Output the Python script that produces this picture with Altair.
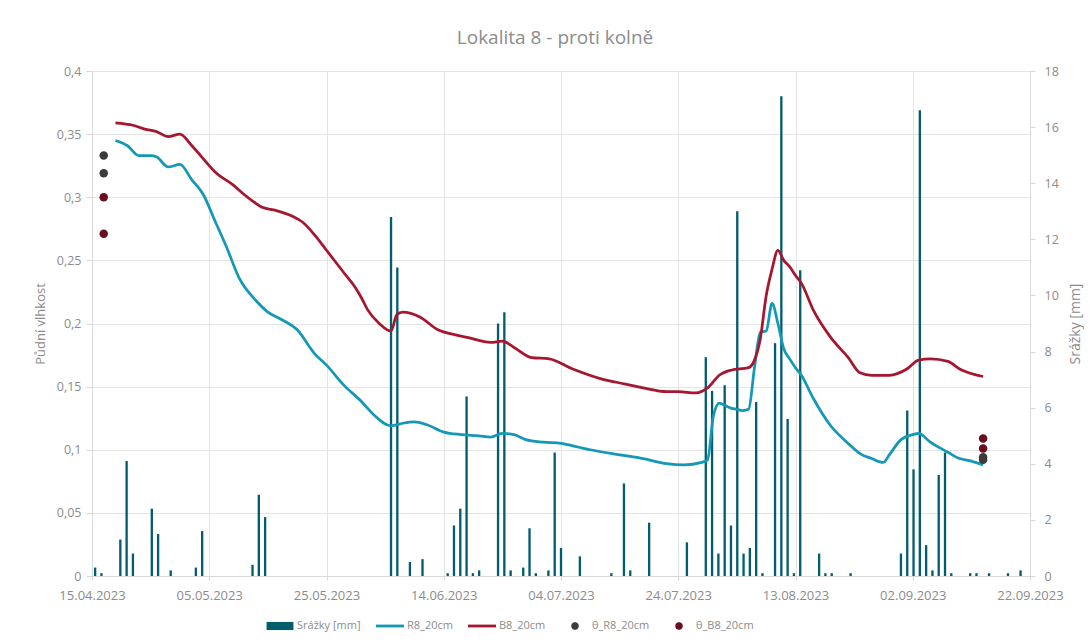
import math
import altair as alt
import pandas as pd

START = pd.Timestamp("2023-04-15")
N_SLOTS = 149  # daily precipitation records on the secondary category axis

# ---- precipitation [mm] (record number, amount) ----
precip_slot = [0, 1, 4, 5, 6, 9, 10, 12, 16, 17,
               25, 26, 27, 47, 48, 50, 52, 56, 57, 58,
               59, 60, 61, 64, 65, 66, 68, 69, 70, 72,
               73, 74, 77, 82, 84, 85, 88, 94, 97, 98,
               99, 100, 101, 102, 103, 104, 105, 106, 108, 109,
               110, 111, 112, 115, 116, 117, 120, 128, 129, 130,
               131, 132, 133, 134, 135, 136, 139, 140, 142, 145,
               147]
precip_mm = [0.3, 0.1, 1.3, 4.1, 0.8, 2.4, 1.5, 0.2, 0.3, 1.6,
             0.4, 2.9, 2.1, 12.8, 11.0, 0.5, 0.6, 0.1, 1.8, 2.4,
             6.4, 0.1, 0.2, 9.0, 9.4, 0.2, 0.3, 1.7, 0.1, 0.2,
             4.4, 1.0, 0.7, 0.1, 3.3, 0.2, 1.9, 1.2, 7.8, 6.6,
             0.8, 6.8, 1.8, 13.0, 0.8, 1.0, 6.2, 0.1, 8.3, 17.1,
             5.6, 0.1, 10.9, 0.8, 0.1, 0.1, 0.1, 0.8, 5.9, 3.8,
             16.6, 1.1, 0.2, 3.6, 4.4, 0.1, 0.1, 0.1, 0.1, 0.1,
             0.2]

# ---- soil moisture series (days since 15.04.2023) ----
r8_day = [4, 6, 8, 10, 11, 13, 15, 17, 19, 21,
          23, 25, 28, 30, 32, 35, 38, 40, 43, 46,
          48, 51, 53, 55, 57, 60, 63, 66, 68, 70,
          72, 74, 77, 80, 83, 85, 90, 94, 98, 101,
          104, 105, 106, 107, 108, 109, 110, 111, 112, 113,
          114, 115, 116, 117, 118, 119, 120, 121, 123, 126,
          129, 131, 133, 135, 136, 138, 140, 141, 143, 146,
          148, 150, 152]
r8_val = [0.345, 0.341, 0.333, 0.333, 0.332, 0.324, 0.326, 0.314, 0.302, 0.281,
          0.260, 0.237, 0.218, 0.209, 0.204, 0.195, 0.176, 0.167, 0.151, 0.138,
          0.128, 0.119, 0.121, 0.122, 0.120, 0.114, 0.112, 0.111, 0.110, 0.113,
          0.112, 0.108, 0.106, 0.105, 0.102, 0.100, 0.096, 0.093, 0.089, 0.088,
          0.090, 0.092, 0.127, 0.137, 0.135, 0.133, 0.132, 0.131, 0.132, 0.165,
          0.193, 0.194, 0.216, 0.200, 0.180, 0.172, 0.165, 0.159, 0.141, 0.119,
          0.105, 0.097, 0.093, 0.090, 0.096, 0.108, 0.112, 0.113, 0.106, 0.098,
          0.093, 0.091, 0.088]

b8_day = [4, 7, 9, 11, 13, 15, 17, 20, 21, 24,
          26, 28, 29, 31, 35, 36, 38, 40, 43, 45,
          46, 47, 49, 51, 52, 53, 56, 59, 62, 64,
          68, 70, 72, 75, 78, 82, 87, 91, 94, 98,
          100, 103, 105, 107, 109, 112, 113, 114, 115, 116,
          117, 118, 119, 120, 121, 123, 126, 129, 131, 133,
          136, 139, 141, 143, 146, 148, 152]
b8_val = [0.359, 0.357, 0.354, 0.352, 0.348, 0.350, 0.341, 0.325, 0.320, 0.310,
          0.302, 0.295, 0.292, 0.290, 0.283, 0.280, 0.270, 0.258, 0.240, 0.228,
          0.220, 0.211, 0.200, 0.194, 0.207, 0.209, 0.205, 0.195, 0.191, 0.189,
          0.185, 0.186, 0.181, 0.173, 0.172, 0.164, 0.156, 0.152, 0.149, 0.146,
          0.146, 0.145, 0.149, 0.159, 0.163, 0.165, 0.171, 0.188, 0.222, 0.243,
          0.258, 0.250, 0.245, 0.238, 0.232, 0.211, 0.189, 0.173, 0.161, 0.159,
          0.159, 0.164, 0.171, 0.172, 0.170, 0.164, 0.158]

# ---- gravimetric measurements (days since 15.04.2023) ----
theta_r8_day = [2, 2, 152, 152]
theta_r8_val = [0.333, 0.319, 0.094, 0.092]
theta_b8_day = [2, 2, 152, 152]
theta_b8_val = [0.300, 0.271, 0.109, 0.101]

series_names = ["Srážky [mm]", "R8_20cm", "B8_20cm", "θ_R8_20cm", "θ_B8_20cm"]
series_colors = ["#025d6e", "#1399b6", "#a6172f", "#3b3b3b", "#6a0d1e"]

y_ticks = [0, 0.05, 0.1, 0.15, 0.2, 0.25, 0.3, 0.35, 0.4]
rain_ticks = [0, 2, 4, 6, 8, 10, 12, 14, 16, 18]
x_tick_days = [0, 20, 40, 60, 80, 100, 120, 140, 160]

FONT = "Open Sans"
TXT = "#8c8c8c"
GRID = "#e4e4e4"
AXL = "#d9d9d9"


def to_date(days):
    return [START + pd.Timedelta(days=int(d)) for d in days]


def dt(ts):
    return alt.DateTime(year=ts.year, month=ts.month, date=ts.day)


bar_df = pd.DataFrame({"slot": precip_slot, "mm": precip_mm})
r8_df = pd.DataFrame({"date": to_date(r8_day), "value": r8_val})
b8_df = pd.DataFrame({"date": to_date(b8_day), "value": b8_val})
tr8_df = pd.DataFrame({"date": to_date(theta_r8_day), "value": theta_r8_val})
tb8_df = pd.DataFrame({"date": to_date(theta_b8_day), "value": theta_b8_val})
legend_df = pd.DataFrame({"series": series_names})

x_scale = alt.Scale(domain=[dt(START), dt(START + pd.Timedelta(days=160))])
y_scale = alt.Scale(domain=[0, 0.4], nice=False)

circle_path = "M" + "L".join(
    f"{0.27 * math.cos(2 * math.pi * k / 24):.3f},{0.27 * math.sin(2 * math.pi * k / 24):.3f}"
    for k in range(24)) + "Z"
shape_range = ["M-0.96,-0.29H0.96V0.29H-0.96Z", "M-1,-0.1H1V0.1H-1Z",
               "M-1,-0.1H1V0.1H-1Z", circle_path, circle_path]

x_axis = alt.Axis(values=[dt(d) for d in to_date(x_tick_days)], format="%d.%m.%Y",
                  labelAngle=0, title=None, grid=True, tickSize=4, labelPadding=9,
                  labelFontSize=13, labelFlush=False, labelOverlap=False)
y_axis = alt.Axis(values=y_ticks, format="~g", labelExpr="replace(datum.label, '.', ',')",
                  title="Půdní vlhkost", titleAngle=270, titleBaseline="middle",
                  titleFontSize=13, titleX=-52, titleY=252.5, tickSize=6, labelPadding=5,
                  grid=True)

bars = alt.Chart(bar_df).mark_bar(color=series_colors[0]).encode(
    x=alt.X("slot:O", scale=alt.Scale(domain=list(range(N_SLOTS)), paddingInner=0.63,
                                      paddingOuter=0.315), axis=None),
    y=alt.Y("mm:Q", scale=alt.Scale(domain=[0, 18], nice=False),
            axis=alt.Axis(orient="right", values=rain_ticks, title="Srážky [mm]",
                          titleAngle=270, titleBaseline="middle", titleX=45, titleY=252.5,
                          titleFontSize=14, grid=False, tickSize=5, labelPadding=9)),
)


def line_layer(df, color, axes):
    return alt.Chart(df).mark_line(interpolate="monotone", strokeWidth=2.75, color=color).encode(
        x=alt.X("date:T", scale=x_scale, axis=x_axis if axes else None),
        y=alt.Y("value:Q", scale=y_scale, axis=y_axis if axes else None),
    )


def dot_layer(df, color):
    return alt.Chart(df).mark_circle(size=72, opacity=1, color=color).encode(
        x=alt.X("date:T", scale=x_scale, axis=None),
        y=alt.Y("value:Q", scale=y_scale, axis=None),
    )


leg = alt.Legend(orient="none", legendX=174, legendY=541, direction="horizontal", title=None,
                 symbolSize=784, symbolStrokeWidth=0, symbolOpacity=1,
                 labelFont=FONT, labelFontSize=11, labelColor=TXT, labelOffset=3,
                 columnPadding=15)

helper = alt.Chart(legend_df).mark_point(filled=True, opacity=0).encode(
    color=alt.Color("series:N", scale=alt.Scale(domain=series_names, range=series_colors), legend=leg),
    shape=alt.Shape("series:N", scale=alt.Scale(domain=series_names, range=shape_range), legend=leg),
)

chart = alt.layer(
    bars,
    line_layer(r8_df, series_colors[1], True),
    line_layer(b8_df, series_colors[2], False),
    dot_layer(tr8_df, series_colors[3]),
    dot_layer(tb8_df, series_colors[4]),
    helper,
).resolve_scale(
    x="independent", y="independent"
).properties(
    width=938, height=505,
    title=alt.TitleParams("Lokalita 8 - proti kolně", offset=17, dx=-6),
    autosize=alt.AutoSizeParams(type="none"),
    padding={"left": 84, "top": 63, "right": 54, "bottom": 59},
).configure_view(
    strokeWidth=0
).configure_axis(
    labelFont=FONT, titleFont=FONT, labelColor=TXT, titleColor=TXT,
    labelFontSize=12.5, titleFontSize=12.5, titleFontWeight="normal",
    domainColor=AXL, tickColor=AXL, gridColor=GRID,
).configure_title(
    font=FONT, fontSize=19, fontWeight="normal", color=TXT, anchor="middle"
)

chart.save("out.html", embed_options={"renderer": "svg", "actions": False})
